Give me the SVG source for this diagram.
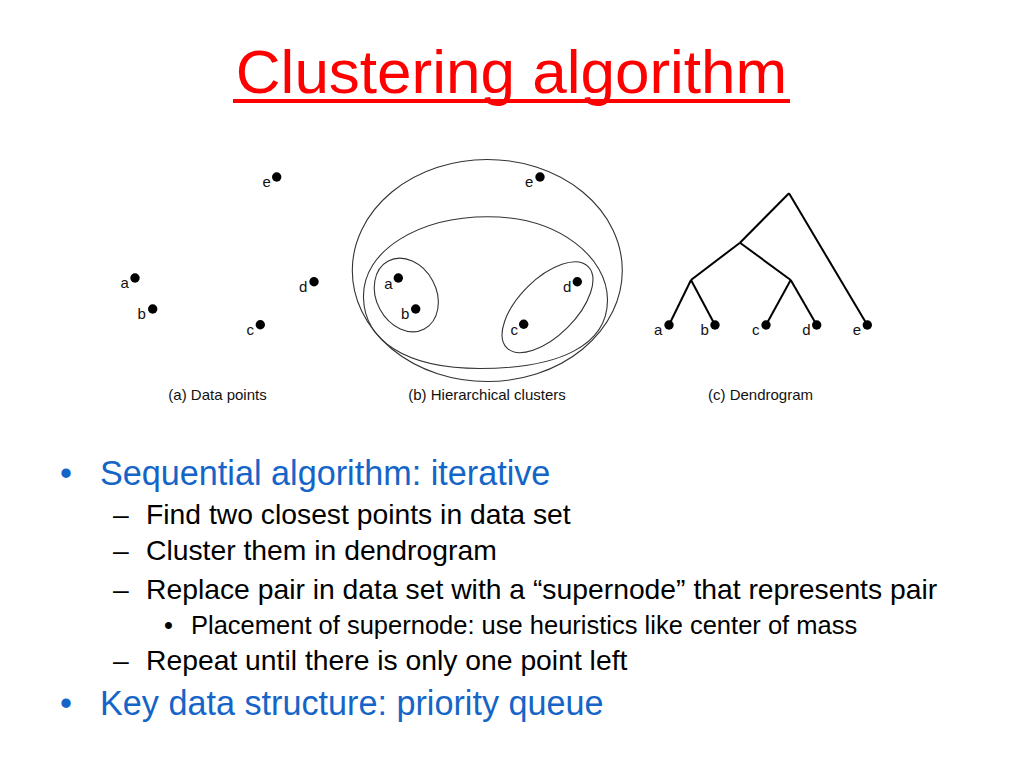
<svg xmlns="http://www.w3.org/2000/svg" width="1024" height="768" viewBox="0 0 1024 768">
<style>
.lbl{font-family:"Liberation Sans",Arial,sans-serif;font-size:15px;fill:#111}
.cap{font-family:"Liberation Sans",Arial,sans-serif;font-size:15px;fill:#111;text-anchor:middle}
.dot{fill:#000}
.clu{fill:none;stroke:#333;stroke-width:1.1}
.edge{fill:none;stroke:#000;stroke-width:2}
.l1{font-family:"Liberation Sans",Arial,sans-serif;font-size:34.2px;fill:#1565C8}
.l2{font-family:"Liberation Sans",Arial,sans-serif;font-size:28.3px;fill:#000}
.l3{font-family:"Liberation Sans",Arial,sans-serif;font-size:25.5px;fill:#000}
</style>
<rect width="1024" height="768" fill="#fff"/>
<g id="title">
<text x="511.5" y="93" text-anchor="middle" font-family="'Liberation Sans',Arial,sans-serif" font-size="62" fill="#FF0000">Clustering algorithm</text>
<rect x="233" y="99" width="557" height="4" fill="#FF0000"/>
</g>
<g id="panel-a">
<g id="a-e"><circle class="dot" cx="276.7" cy="177" r="4.7"/><text class="lbl" x="262.5" y="187">e</text></g>
<g id="a-a"><circle class="dot" cx="135" cy="278" r="4.7"/><text class="lbl" x="120.5" y="288">a</text></g>
<g id="a-b"><circle class="dot" cx="152.7" cy="309" r="4.7"/><text class="lbl" x="137.5" y="318.5">b</text></g>
<g id="a-c"><circle class="dot" cx="260.3" cy="324.7" r="4.7"/><text class="lbl" x="246.5" y="334.5">c</text></g>
<g id="a-d"><circle class="dot" cx="314" cy="281.7" r="4.7"/><text class="lbl" x="299" y="291.5">d</text></g>
<text class="cap" x="217.5" y="400">(a) Data points</text>
</g>
<g id="panel-b">
<g id="b-outer"><ellipse class="clu" cx="487.3" cy="270.5" rx="135" ry="111"/></g>
<g id="b-abcd"><path class="clu" d="M363.5,298 C362,250 420,216.7 488,216.7 C560,216.7 607.5,258 607.5,300 C607.5,345 560,368.5 480,368.5 C405,368.5 364.5,340 363.5,298 Z"/></g>
<g id="b-ab"><ellipse class="clu" cx="406.3" cy="295" rx="30" ry="38.4" transform="rotate(-28 406.3 295)"/></g>
<g id="b-cd"><ellipse class="clu" cx="547.5" cy="307.2" rx="57.5" ry="28.5" transform="rotate(-45 547.5 307.2)"/></g>
<g id="b-e"><circle class="dot" cx="540" cy="177" r="4.7"/><text class="lbl" x="525" y="187">e</text></g>
<g id="b-a"><circle class="dot" cx="398.3" cy="278" r="4.7"/><text class="lbl" x="384.3" y="288.5">a</text></g>
<g id="b-b"><circle class="dot" cx="415.7" cy="309" r="4.7"/><text class="lbl" x="401" y="319">b</text></g>
<g id="b-c"><circle class="dot" cx="523.7" cy="324.3" r="4.7"/><text class="lbl" x="510.5" y="335">c</text></g>
<g id="b-d"><circle class="dot" cx="577.3" cy="281.7" r="4.7"/><text class="lbl" x="563" y="291.5">d</text></g>
<text class="cap" x="487" y="400">(b) Hierarchical clusters</text>
</g>
<g id="panel-c">
<g id="connectors">
<line class="edge" x1="789" y1="193.3" x2="740" y2="242.7"/>
<line class="edge" x1="789" y1="193.3" x2="867.3" y2="325"/>
<line class="edge" x1="740" y1="242.7" x2="691" y2="280"/>
<line class="edge" x1="740" y1="242.7" x2="790.7" y2="280"/>
<line class="edge" x1="691" y1="280" x2="669" y2="325"/>
<line class="edge" x1="691" y1="280" x2="715" y2="325"/>
<line class="edge" x1="790.7" y1="280" x2="766" y2="325"/>
<line class="edge" x1="790.7" y1="280" x2="816.7" y2="325"/>
</g>
<g id="c-a"><circle class="dot" cx="669" cy="325" r="4.7"/><text class="lbl" x="654" y="335">a</text></g>
<g id="c-b"><circle class="dot" cx="715" cy="325" r="4.7"/><text class="lbl" x="700.5" y="335">b</text></g>
<g id="c-c"><circle class="dot" cx="766" cy="325" r="4.7"/><text class="lbl" x="752" y="335">c</text></g>
<g id="c-d"><circle class="dot" cx="816.7" cy="325" r="4.7"/><text class="lbl" x="802.3" y="335">d</text></g>
<g id="c-e"><circle class="dot" cx="867.3" cy="325" r="4.7"/><text class="lbl" x="852.7" y="335">e</text></g>
<text class="cap" x="760.5" y="400">(c) Dendrogram</text>
</g>
<g id="bullets">
<text class="l1" x="60" y="485">•</text>
<text class="l1" x="100" y="485">Sequential algorithm: iterative</text>
<text class="l2" x="113" y="524">–</text>
<text class="l2" x="146" y="524">Find two closest points in data set</text>
<text class="l2" x="113" y="560">–</text>
<text class="l2" x="146" y="560">Cluster them in dendrogram</text>
<text class="l2" x="113" y="599">–</text>
<text class="l2" x="146" y="599">Replace pair in data set with a “supernode” that represents pair</text>
<text class="l3" x="164" y="634">•</text>
<text class="l3" x="191" y="634">Placement of supernode: use heuristics like center of mass</text>
<text class="l2" x="113" y="670">–</text>
<text class="l2" x="146" y="670">Repeat until there is only one point left</text>
<text class="l1" x="60" y="715">•</text>
<text class="l1" x="100" y="715">Key data structure: priority queue</text>
</g>
</svg>
